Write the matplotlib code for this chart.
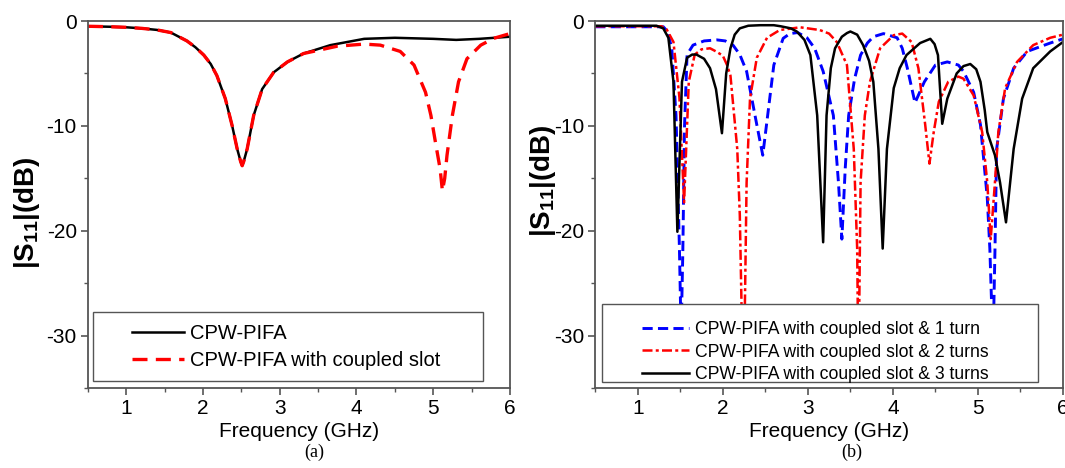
import matplotlib
matplotlib.use("Agg")
import matplotlib.pyplot as plt
from matplotlib.patches import Rectangle
from matplotlib.ticker import MultipleLocator

plt.rcParams["font.family"] = ["Liberation Sans", "DejaVu Sans"]
plt.rcParams["axes.unicode_minus"] = False
plt.rcParams["mathtext.fontset"] = "custom"
plt.rcParams["mathtext.rm"] = "Liberation Sans"
plt.rcParams["mathtext.bf"] = "Liberation Sans:bold"

# ---- panel (a) ----
a_freq = [0.5, 0.8, 1.0, 1.2, 1.4, 1.58, 1.79, 1.9, 2.01, 2.1, 2.18, 2.29, 2.38, 2.445, 2.49, 2.51,
          2.53, 2.575, 2.66, 2.77, 2.92, 3.10, 3.31, 3.66, 4.10, 4.5, 5.0, 5.3, 5.6, 6.0]
a_pifa = [-0.5, -0.55, -0.6, -0.7, -0.85, -1.1, -1.9, -2.5, -3.25, -4.1, -5.2, -7.4, -10.0, -12.2, -13.4, -13.8,
          -13.4, -12.2, -9.0, -6.5, -4.9, -3.9, -3.1, -2.3, -1.7, -1.6, -1.7, -1.8, -1.7, -1.5]

a_slot_freq = [0.5, 0.8, 1.0, 1.2, 1.4, 1.58, 1.79, 1.9, 2.01, 2.1, 2.18, 2.29, 2.38, 2.445, 2.49, 2.51,
               2.53, 2.575, 2.66, 2.77, 2.92, 3.10, 3.31, 3.75, 4.10, 4.31, 4.57, 4.75, 4.90, 4.97, 5.03,
               5.09, 5.12, 5.15, 5.18, 5.25, 5.33, 5.44, 5.62, 5.79, 6.0]
a_slot = [-0.5, -0.55, -0.6, -0.7, -0.85, -1.1, -1.9, -2.5, -3.25, -4.1, -5.2, -7.4, -10.0, -12.2, -13.4, -13.8,
          -13.4, -12.2, -9.0, -6.5, -4.9, -3.9, -3.1, -2.4, -2.2, -2.3, -2.9, -4.2, -6.8, -9.0, -11.6,
          -14.1, -16.2, -15.0, -12.8, -9.0, -5.8, -3.6, -2.3, -1.65, -1.2]

# ---- panel (b) ---- (deepest points are hidden behind the legend box)
b1_freq = [0.5, 1.0, 1.30, 1.35, 1.40, 1.45, 1.49, 1.51, 1.53, 1.55, 1.58, 1.65, 1.78, 1.93, 2.03, 2.12,
           2.20, 2.28, 2.40, 2.47, 2.52, 2.60, 2.71, 2.79, 2.88, 2.99, 3.08, 3.18, 3.30, 3.36, 3.40, 3.44,
           3.48, 3.55, 3.62, 3.70, 3.77, 3.89, 4.05, 4.11, 4.17, 4.26, 4.37, 4.50, 4.64, 4.77, 4.83, 4.95,
           5.03, 5.11, 5.14, 5.16, 5.18, 5.20, 5.22, 5.30, 5.42, 5.58, 5.85, 6.0]
b1_turn = [-0.55, -0.55, -0.55, -1.0, -2.6, -9.0, -21.7, -30.0, -22.0, -10.0, -3.2, -2.3, -1.9, -1.8, -1.9, -2.3,
           -3.2, -4.8, -9.9, -12.8, -9.5, -4.2, -1.65, -1.2, -1.1, -1.6, -2.6, -4.8, -9.0, -15.4, -20.8, -14.0,
           -9.0, -5.5, -3.25, -2.1, -1.5, -1.2, -1.6, -2.6, -4.5, -7.8, -5.8, -4.2, -3.9, -4.2, -4.8, -6.8,
           -9.9, -16.9, -21.7, -26.8, -30.0, -22.0, -12.2, -7.4, -4.5, -2.9, -2.1, -1.7]

b2_freq = [0.5, 1.0, 1.28, 1.34, 1.42, 1.49, 1.545, 1.60, 1.67, 1.75, 1.85, 1.92, 2.00, 2.05, 2.09, 2.17,
           2.20, 2.22, 2.24, 2.26, 2.28, 2.32, 2.40, 2.52, 2.67, 2.91, 3.14, 3.25, 3.34, 3.46, 3.54, 3.58,
           3.59, 3.605, 3.62, 3.67, 3.73, 3.85, 4.01, 4.11, 4.22, 4.30, 4.38, 4.43, 4.48, 4.54, 4.65, 4.77,
           4.83, 4.95, 5.05, 5.11, 5.15, 5.20, 5.24, 5.32, 5.46, 5.65, 5.85, 6.0]
b2_turn = [-0.5, -0.5, -0.5, -0.8, -2.0, -7.3, -17.3, -5.8, -3.2, -2.7, -2.6, -2.9, -3.3, -4.2, -5.2, -12.2,
           -18.5, -27.0, -30.0, -27.0, -15.4, -7.4, -3.5, -1.6, -0.86, -0.6, -0.86, -1.2, -2.0, -4.2, -12.2, -21.7,
           -30.0, -27.0, -15.4, -9.0, -5.8, -2.6, -1.35, -1.2, -2.0, -4.5, -9.9, -13.6, -10.6, -7.7, -5.8, -5.3,
           -5.5, -7.1, -10.6, -15.4, -20.8, -15.4, -10.6, -6.4, -3.9, -2.3, -1.6, -1.3]

b3_freq = [0.5, 1.0, 1.22, 1.30, 1.36, 1.42, 1.466, 1.52, 1.58, 1.64, 1.69, 1.78, 1.85, 1.92, 1.99, 2.04, 2.09,
           2.14, 2.20, 2.30, 2.44, 2.60, 2.68, 2.80, 2.87, 2.96, 3.03, 3.11, 3.18, 3.22, 3.27, 3.32, 3.40, 3.46,
           3.50, 3.58, 3.65, 3.72, 3.77, 3.83, 3.88, 3.93, 4.01, 4.08, 4.16, 4.32, 4.44, 4.49, 4.53, 4.58,
           4.64, 4.75, 4.83, 4.91, 4.98, 5.03, 5.08, 5.11, 5.20, 5.26, 5.33, 5.42, 5.52, 5.65, 5.85, 6.0]
b3_turn = [-0.45, -0.45, -0.45, -0.7, -1.6, -5.8, -20.1, -5.8, -3.5, -3.2, -3.2, -3.6, -4.5, -6.5, -10.7, -5.0, -2.6,
           -1.3, -0.7, -0.45, -0.4, -0.4, -0.5, -0.7, -1.0, -1.8, -3.25, -9.0, -21.1, -9.0, -4.5, -2.6, -1.5, -1.15,
           -1.0, -1.3, -2.3, -3.8, -5.8, -12.2, -21.7, -12.2, -6.4, -4.5, -3.25, -2.1, -1.7, -2.2, -3.25, -9.8,
           -7.4, -5.0, -4.3, -4.1, -4.6, -5.8, -8.5, -10.6, -12.8, -15.4, -19.2, -12.2, -7.4, -4.5, -2.9, -2.0]

labels_a = ["CPW-PIFA", "CPW-PIFA with coupled slot"]
labels_b = ["CPW-PIFA with coupled slot & 1 turn",
            "CPW-PIFA with coupled slot & 2 turns",
            "CPW-PIFA with coupled slot & 3 turns"]

fig = plt.figure(figsize=(10.65, 4.68), dpi=100)
ax_a = fig.add_axes([0.0826, 0.1709, 0.3962, 0.7842])
ax_b = fig.add_axes([0.5589, 0.1709, 0.4392, 0.7842])

spine_col = "#555555"

la1, = ax_a.plot(a_freq, a_pifa, color="black", lw=1.8)
la2, = ax_a.plot(a_slot_freq, a_slot, color="#ff0000", lw=2.4, ls=(0, (4.5, 2.5)))

lb1, = ax_b.plot(b1_freq, b1_turn, color="#0000ff", lw=2.1, ls=(0, (3.5, 1.8)))
lb2, = ax_b.plot(b2_freq, b2_turn, color="#ff0000", lw=1.8, ls=(0, (4, 1.3, 1.2, 1.3)))
lb3, = ax_b.plot(b3_freq, b3_turn, color="black", lw=1.8)

for ax in (ax_a, ax_b):
    ax.set_xlim(0.5, 6)
    ax.set_ylim(-35, 0)
    ax.xaxis.set_major_locator(MultipleLocator(1))
    ax.xaxis.set_minor_locator(MultipleLocator(0.5))
    ax.yaxis.set_major_locator(MultipleLocator(10))
    ax.yaxis.set_minor_locator(MultipleLocator(5))
    ax.tick_params(which="major", direction="out", length=5, width=1.2, color=spine_col,
                   labelsize=15, pad=3)
    ax.tick_params(which="minor", direction="out", length=3, width=1.0, color=spine_col)
    for s in ax.spines.values():
        s.set_color(spine_col)
        s.set_linewidth(1.3)
    ax.set_xlabel("Frequency (GHz)", fontsize=15, labelpad=3)


def legend_box(ax, x0, y0, w, h):
    # plain framed white box, legend entries are placed on top of it
    fig.add_artist(Rectangle((x0, y0), w, h, transform=ax.transAxes,
                             facecolor="white", edgecolor=spine_col, lw=1.0, zorder=5))


legend_box(ax_a, 0.012, 0.019, 0.924, 0.188)
leg_a = fig.legend([la1, la2], labels_a, loc="center left", bbox_to_anchor=(0.104, 0.112),
                   bbox_transform=ax_a.transAxes, frameon=False, fontsize=14.5,
                   handlelength=2.6, handletextpad=0.3, labelspacing=0.42,
                   borderpad=0, borderaxespad=0)
leg_a.set_zorder(6)

legend_box(ax_b, 0.0145, 0.016, 0.932, 0.213)
leg_b = fig.legend([lb1, lb2, lb3], labels_b, loc="center left", bbox_to_anchor=(0.101, 0.098),
                   bbox_transform=ax_b.transAxes, frameon=False, fontsize=12.7,
                   handlelength=2.65, handletextpad=0.3, labelspacing=0.3,
                   borderpad=0, borderaxespad=0)
leg_b.set_zorder(6)

ylab = r"$\mathbf{|S_{11}|(dB)}$"
fig.text(0.0254, 0.545, ylab, rotation=90, fontsize=20, ha="center", va="center")
fig.text(0.51, 0.613, ylab, rotation=90, fontsize=20, ha="center", va="center")

fig.text(314 / 1065, 1 - 452 / 468, "(a)", fontsize=13, family=["Liberation Serif", "DejaVu Serif"],
         ha="center", va="center")
fig.text(852 / 1065, 1 - 452 / 468, "(b)", fontsize=13, family=["Liberation Serif", "DejaVu Serif"],
         ha="center", va="center")

fig.savefig("out.png", dpi=100)
